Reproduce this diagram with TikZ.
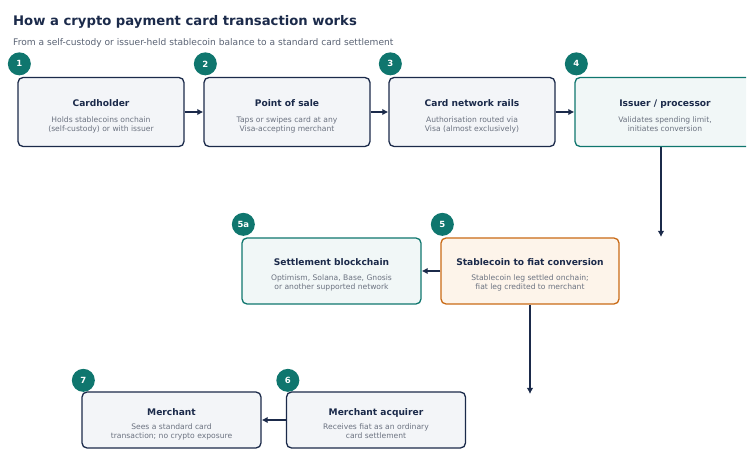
\documentclass[tikz,border=0pt]{standalone}
\usepackage{fontspec}
\setmainfont{DejaVu Sans}
\usetikzlibrary{arrows.meta,positioning,calc}

\definecolor{navy}{HTML}{1B2A4A}
\definecolor{bodygrey}{HTML}{6B7280}
\definecolor{subgrey}{HTML}{596273}
\definecolor{teal}{HTML}{0F766E}
\definecolor{amber}{HTML}{C96A16}
\definecolor{fillgrey}{HTML}{F3F5F8}
\definecolor{fillteal}{HTML}{F1F7F7}
\definecolor{fillamber}{HTML}{FDF4EA}

\newcommand{\boxhead}[1]{{\color{navy}\fontsize{9.1}{10}\selectfont\bfseries\rule{0pt}{15pt}#1}}

\begin{document}
\begin{tikzpicture}[
  x=1pt, y=-1pt,
  font=\fontsize{7.6}{9}\selectfont,
  box/.style={draw=navy, fill=fillgrey, line width=1.3pt, rounded corners=5pt, align=center, inner sep=0pt, text=bodygrey, minimum width=166pt, minimum height=69pt},
  tealbox/.style={box, draw=teal, fill=fillteal},
  amberbox/.style={box, draw=amber, fill=fillamber},
  badge/.style={circle, fill=teal, text=white, inner sep=0pt, minimum size=23pt, font=\fontsize{8.5}{10}\selectfont\bfseries},
  arr/.style={-{Latex[length=6pt, width=6.5pt]}, draw=navy, line width=1.5pt}
]
  \useasboundingbox (0,0) rectangle (756,473);
  \clip (0,0) rectangle (746,473);

  % Heading
  \node[anchor=base west, inner sep=0pt, text=navy, font=\fontsize{13.2}{16}\selectfont\bfseries] (title) at (13,26) {How a crypto payment card transaction works};
  \node[anchor=base west, inner sep=0pt, text=subgrey, font=\fontsize{9.1}{10}\selectfont] (subtitle) at (13,46) {From a self-custody or issuer-held stablecoin balance to a standard card settlement};

  % Row 1
  \node[box] (holder) at (101,112) {\boxhead{Cardholder}\\[7pt]Holds stablecoins onchain\\(self-custody) or with issuer};
  \node[box] (pos) at (287,112) {\boxhead{Point of sale}\\[7pt]Taps or swipes card at any\\Visa-accepting merchant};
  \node[box] (rails) at (472,112) {\boxhead{Card network rails}\\[7pt]Authorisation routed via\\Visa (almost exclusively)};
  \node[tealbox, minimum width=180pt] (issuer) at (665,112) {\boxhead{Issuer / processor}\\[7pt]Validates spending limit,\\initiates conversion};

  \draw[arr] (holder) -- (pos);
  \draw[arr] (pos) -- (rails);
  \draw[arr] (rails) -- (issuer);

  % Row 2
  \node[tealbox, minimum width=179pt, minimum height=66pt] (chain) at (331.5,271) {\boxhead{Settlement blockchain}\\[6pt]Optimism, Solana, Base, Gnosis\\or another supported network};
  \node[amberbox, minimum width=178pt, minimum height=66pt] (convert) at (530,271) {\boxhead{Stablecoin to fiat conversion}\\[6pt]Stablecoin leg settled onchain;\\fiat leg credited to merchant};

  \coordinate (drop1) at (661,237);
  \draw[arr] (issuer.south -| drop1) -- (drop1);
  \draw[arr] (convert) -- (chain);

  % Row 3
  \node[box, minimum width=179pt, minimum height=56pt] (merchant) at (171.5,420) {\boxhead{Merchant}\\[5pt]Sees a standard card\\transaction; no crypto exposure};
  \node[box, minimum width=179pt, minimum height=56pt] (acquirer) at (376,420) {\boxhead{Merchant acquirer}\\[5pt]Receives fiat as an ordinary\\card settlement};

  \coordinate (drop2) at (530,394);
  \draw[arr] (convert.south) -- (drop2);
  \draw[arr] (acquirer) -- (merchant);

  % Step badges
  \node[badge] (b1) at ($(holder.north west)+(2,-13)$) {1};
  \node[badge] (b2) at ($(pos.north west)+(2,-13)$) {2};
  \node[badge] (b3) at ($(rails.north west)+(2,-13)$) {3};
  \node[badge] (b4) at ($(issuer.north west)+(2,-13)$) {4};
  \node[badge] (b5a) at ($(chain.north west)+(2,-13)$) {5a};
  \node[badge] (b5) at ($(convert.north west)+(2,-13)$) {5};
  \node[badge] (b6) at ($(acquirer.north west)+(2,-11)$) {6};
  \node[badge] (b7) at ($(merchant.north west)+(2,-11)$) {7};
\end{tikzpicture}
\end{document}
